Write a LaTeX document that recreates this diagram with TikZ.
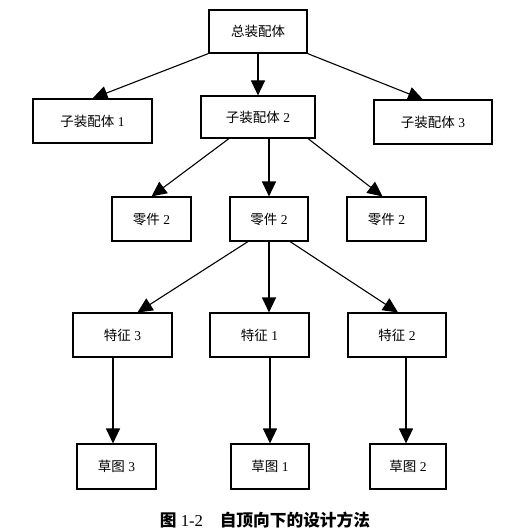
\documentclass[tikz,border=0pt]{standalone}
\usepackage{fontspec}
\setmainfont{Liberation Serif}
\newfontfamily\cjk{Noto Sans CJK SC}
\newcommand\zh[1]{{\cjk #1}}
\usetikzlibrary{arrows.meta}
\begin{document}
\begin{tikzpicture}[x=1pt,y=-1pt,
  box/.style={draw,line width=1.1pt,inner sep=0pt,font=\fontsize{13.5}{15}\selectfont},
  arr/.style={line width=1.1pt,-{Triangle[length=15pt,width=14pt]}}]
\useasboundingbox (0,0) rectangle (529,532);
\node[box,minimum width=98pt,minimum height=43pt] (top) at (258,31.5) {\zh{总装配体}};
\node[box,minimum width=119pt,minimum height=44pt] (s1) at (92.5,121) {\zh{子装配体} 1};
\node[box,minimum width=114pt,minimum height=42pt] (s2) at (258,117) {\zh{子装配体} 2};
\node[box,minimum width=118pt,minimum height=44pt] (s3) at (433,122) {\zh{子装配体} 3};
\node[box,minimum width=79pt,minimum height=44pt] (p1) at (151.5,219) {\zh{零件} 2};
\node[box,minimum width=78pt,minimum height=44pt] (p2) at (269,219) {\zh{零件} 2};
\node[box,minimum width=79pt,minimum height=44pt] (p3) at (386.5,219) {\zh{零件} 2};
\node[box,minimum width=99pt,minimum height=44pt] (f3) at (122.5,335) {\zh{特征} 3};
\node[box,minimum width=99pt,minimum height=44pt] (f1) at (259.5,335) {\zh{特征} 1};
\node[box,minimum width=98pt,minimum height=44pt] (f2) at (397,335) {\zh{特征} 2};
\node[box,minimum width=79pt,minimum height=45pt] (k3) at (116.5,466.5) {\zh{草图} 3};
\node[box,minimum width=78pt,minimum height=45pt] (k1) at (270,466.5) {\zh{草图} 1};
\node[box,minimum width=76pt,minimum height=45pt] (k2) at (408,466.5) {\zh{草图} 2};
\node[font=\fontsize{16.7}{18}\selectfont] (cap) at (265,520) {{\bfseries\zh{图}} 1-2\hspace{1em}{\bfseries\zh{自顶向下的设计方法}}};
\coordinate (k3t) at ([xshift=-3.5pt]k3.north);
\coordinate (k2t) at ([xshift=-2pt]k2.north);
\draw[arr] (top.south west) -- (s1.north);
\draw[arr] (top.south) -- (s2.north);
\draw[arr] (top.south east) -- ([xshift=-10pt]s3.north);
\draw[arr] ([xshift=-29pt]s2.south) -- (p1.north);
\draw[arr] (p2.north |- s2.south) -- (p2.north);
\draw[arr] ([xshift=50pt]s2.south) -- ([xshift=-4pt]p3.north);
\draw[arr] ([xshift=-21pt]p2.south) -- ([xshift=15pt]f3.north);
\draw[arr] (p2.south) -- (p2.south |- f1.north);
\draw[arr] ([xshift=21pt]p2.south) -- ([xshift=1pt]f2.north);
\draw[arr] (k3t |- f3.south) -- (k3t);
\draw[arr] (k1.north |- f1.south) -- (k1.north);
\draw[arr] (k2t |- f2.south) -- (k2t);
\end{tikzpicture}
\end{document}
